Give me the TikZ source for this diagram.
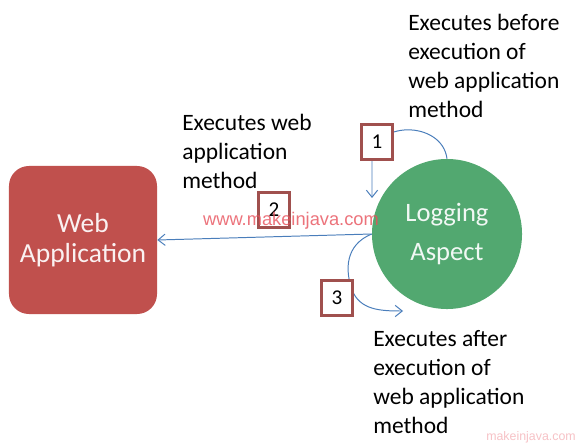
\documentclass[tikz,border=0pt]{standalone}
\usepackage{fontspec}
\setmainfont{Carlito}
\newfontfamily\markfont{Liberation Sans}
\usetikzlibrary{arrows.meta}
\definecolor{appred}{HTML}{C0504D}
\definecolor{aspgreen}{HTML}{52A870}
\definecolor{boxline}{HTML}{A0504E}
\definecolor{flowblue}{HTML}{4A7EBB}
\definecolor{markred}{HTML}{E8505B}
\begin{document}
\begin{tikzpicture}[x=0.025cm,y=-0.025cm]
				\tikzstyle{Step} = [rectangle, draw=boxline, line width=1.8pt, fill=white, minimum width=0.78cm, minimum height=0.88cm, inner sep=0pt, font=\fontsize{15}{18}\selectfont]
				\tikzstyle{Note} = [anchor=west, align=left, inner sep=0pt, font=\fontsize{16.7}{20.6}\selectfont]
				\tikzstyle{Flow} = [flowblue, line width=0.7pt, -{Straight Barb[length=5pt,width=8pt]}]
				\useasboundingbox (0,0) rectangle (583,445);
				\fill[white] (0,0) rectangle (583,445);
				\node (web) at (83,240) [rectangle, rounded corners=0.5cm, fill=appred, minimum width=3.7cm, minimum height=3.7cm, text=white!92!appred, align=center, font=\fontsize{19.6}{21.3}\selectfont] {Web\\Application};
				\node (log) at (447,234) [circle, fill=aspgreen, minimum size=3.75cm, inner sep=0pt, text=white!92!aspgreen, align=center, font=\fontsize{18.9}{27.6}\selectfont] {Logging\\Aspect};
				\coordinate (d1) at (372,198);
				\coordinate (e3) at (403,311);
				\draw [Flow] (log.north) .. controls (442,120) and (372,120) .. (372,160) -- (d1);
				\draw [Flow] (log.west) -- (web.east);
				\draw [Flow] (log.west) .. controls (345,245) and (345,270) .. (352,290) .. controls (360,310) and (380,311) .. (e3);
				\node (1) at (377,142) [Step] {1};
				\node (2) at (274,210) [Step] {2};
				\node (3) at (337,298) [Step] {3};
				\node (pre) at (408,66) [Note] {Executes before\\execution of\\web application\\method};
				\node (run) at (182,151) [Note] {Executes web\\application\\method};
				\node (post) at (373,382) [Note] {Executes after\\execution of\\web application\\method};
				\node (wm) at (291,221) [text=markred, opacity=0.8, inner sep=0pt, font=\markfont\fontsize{13}{15}\selectfont] {www.makeinjava.com};
				\node (wm2) at (531,437) [text=markred!35, inner sep=0pt, font=\markfont\fontsize{8.8}{10}\selectfont] {makeinjava.com};
			\end{tikzpicture}
\end{document}
